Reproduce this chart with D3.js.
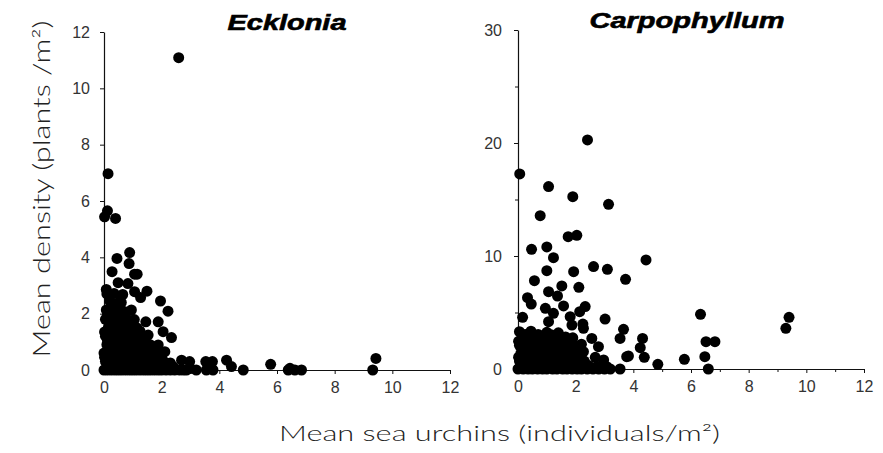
<!DOCTYPE html>
<html>
<head>
<meta charset="utf-8">
<script src="https://cdn.jsdelivr.net/npm/d3@7"></script>
<style>
  html, body { margin: 0; padding: 0; background: #fff; }
  svg { display: block; }
  .tick text { font-family: "Liberation Sans Narrow", "Liberation Sans", Arial, sans-serif; font-size: 16px; fill: #333; }
  .tick line, .domain { stroke: #111; }
</style>
</head>
<body>
<svg id="chart" width="883" height="453"></svg>
<script>
// ---------- DATA ----------
const panelTitles = ["Ecklonia", "Carpophyllum"];
const xTicks = [0, 2, 4, 6, 8, 10, 12];
const eckYTicks = [0, 2, 4, 6, 8, 10, 12];
const carpYTicks = [0, 10, 20, 30];
const xAxisLabel = "Mean sea urchins (individuals/m\u00B2)";
const yAxisLabel = "Mean density (plants /m\u00B2)";

// Ecklonia: urchins (x) and plant density (y)
const eckUrchins = [
  2.59, 0.14, 0.12, 0.02, 0.40, 0.89, 0.45, 0.87, 0.28, 1.06, 1.15, 0.83, 0.49, 0.08, 1.49, 1.06, 1.27, 1.96, 0.54, 0.08,
  2.22, 0.25, 0.95, 1.45, 1.88, 2.05, 0.08, 2.34, 1.53, 1.88, 2.11, 2.69, 2.97, 3.53, 3.76, 4.25, 4.42, 4.83, 5.78, 6.45,
  6.39, 6.62, 6.85, 9.32, 9.43, 3.20, 2.86, 3.78, 3.55, 3.00,
  0.00, 0.12, 0.25, 0.38, 0.50, 0.62, 0.75, 0.88, 1.00, 1.12, 1.25, 1.38, 1.50, 1.62, 1.75, 1.88, 2.00, 2.15, 2.30, 2.45, 2.62, 2.75,
  0.05, 0.30, 0.55, 0.80, 1.05, 1.30, 1.55, 1.80, 2.05, 2.30,
  0.00, 0.20, 0.45, 0.70, 0.95, 1.20, 1.45, 1.70, 1.95,
  0.10, 0.35, 0.60, 0.85, 1.10, 1.35, 1.60,
  0.05, 0.30, 0.55, 0.80, 1.05, 1.30,
  0.15, 0.40, 0.65, 0.90, 1.15,
  0.05, 0.30, 0.55, 0.80, 1.05,
  0.25, 0.50, 0.70, 0.40,
  0.20, 0.60,
  0.10, 0.35, 0.65,
  0.18, 0.42, 0.68, 0.92, 1.18, 1.42, 1.68, 1.92, 2.18, 2.40,
  0.02, 0.32, 0.58, 0.82, 1.08, 1.32, 1.58, 1.82, 2.00,
  0.22, 0.48, 0.72, 0.98, 1.22, 1.48, 1.72,
  0.12, 0.38, 0.62, 0.88, 1.12, 1.38,
  0.02, 0.28, 0.52, 0.78, 1.02, 1.25,
  0.18, 0.45, 0.68, 0.92,
  0.12, 0.38, 0.62
];
const eckDensity = [
  11.09, 6.97, 5.65, 5.44, 5.38, 4.17, 3.96, 3.78, 3.49, 3.40, 3.40, 3.07, 3.10, 2.86, 2.80, 2.78, 2.57, 2.45, 2.42, 2.13,
  2.09, 2.07, 2.13, 1.71, 1.71, 1.36, 1.36, 1.15, 1.24, 0.89, 0.65, 0.35, 0.30, 0.30, 0.30, 0.35, 0.12, 0.00, 0.20, 0.06,
  0.00, 0.00, 0.00, 0.00, 0.41, 0.00, 0.00, 0.00, 0.00, 0.05,
  0.00, 0.00, 0.00, 0.00, 0.00, 0.00, 0.00, 0.00, 0.00, 0.00, 0.00, 0.00, 0.00, 0.00, 0.00, 0.00, 0.00, 0.00, 0.00, 0.00, 0.00, 0.00,
  0.30, 0.28, 0.32, 0.30, 0.27, 0.31, 0.30, 0.28, 0.33, 0.25,
  0.60, 0.62, 0.58, 0.61, 0.63, 0.59, 0.60, 0.62, 0.57,
  0.90, 0.92, 0.88, 0.91, 0.93, 0.89, 0.90,
  1.20, 1.22, 1.18, 1.21, 1.19, 1.23,
  1.50, 1.52, 1.48, 1.51, 1.49,
  1.80, 1.82, 1.78, 1.81, 1.79,
  2.10, 2.12, 2.08, 2.35,
  2.45, 2.40,
  2.70, 2.72, 2.68,
  0.15, 0.16, 0.14, 0.15, 0.16, 0.14, 0.15, 0.16, 0.14, 0.12,
  0.45, 0.46, 0.44, 0.45, 0.46, 0.44, 0.45, 0.46, 0.48,
  0.75, 0.76, 0.74, 0.75, 0.76, 0.74, 0.75,
  1.05, 1.06, 1.04, 1.05, 1.06, 1.04,
  1.35, 1.36, 1.34, 1.35, 1.36, 1.38,
  1.65, 1.66, 1.64, 1.65,
  1.95, 1.96, 1.94
];

// Carpophyllum: urchins (x) and plant density (y)
const carpUrchins = [
  2.41, 0.06, 1.06, 1.90, 3.14, 0.77, 1.74, 2.04, 0.47, 1.00, 1.23, 4.44, 2.62, 3.10, 1.00, 1.93, 3.73, 0.57, 1.52, 2.11,
  1.06, 1.37, 0.33, 0.46, 1.58, 2.33, 0.95, 2.14, 1.23, 6.33, 9.40, 0.16, 3.02, 1.81, 1.06, 1.87, 2.25, 9.29, 3.66, 2.27,
  3.54, 4.32, 2.56, 6.52, 6.83, 2.79, 4.24, 2.27, 3.77, 3.83, 2.68, 4.38, 6.48, 5.77, 4.85, 2.97, 6.60, 3.54, 2.73, 3.08,
  0.00, 0.18, 0.35, 0.50, 0.68, 0.85, 1.00, 1.20, 1.35, 1.55, 1.70, 1.88, 2.05, 2.20, 2.40, 2.60, 2.80, 3.00, 3.20,
  0.05, 0.30, 0.50, 0.75, 0.95, 1.20, 1.40, 1.65, 1.85, 2.05, 2.30,
  0.10, 0.35, 0.60, 0.85, 1.10, 1.30, 1.55, 1.75, 2.00,
  0.05, 0.30, 0.55, 0.80, 1.05, 1.30, 1.50, 1.70, 1.95, 2.20,
  0.15, 0.40, 0.65, 0.90, 1.20, 1.45, 1.65, 1.90,
  0.05, 0.45, 1.00, 1.40,
  0.10, 0.28, 0.45, 0.62, 0.80, 0.98, 1.15, 1.32, 1.50, 1.68, 1.85, 2.02, 2.22, 2.45,
  0.02, 0.20, 0.42, 0.62, 0.85, 1.05, 1.25, 1.48, 1.68, 1.90, 2.12,
  0.22, 0.48, 0.72, 0.98, 1.18, 1.42, 1.62, 1.85, 2.10,
  0.02, 0.28, 0.55, 0.78, 1.05, 1.32, 1.55, 1.78,
  0.25, 0.70, 1.15
];
const carpDensity = [
  20.27, 17.26, 16.14, 15.25, 14.57, 13.57, 11.71, 11.83, 10.59, 10.80, 9.85, 9.65, 9.06, 8.82, 8.70, 8.61, 7.94, 7.82, 7.35, 7.23,
  6.84, 6.46, 6.31, 5.75, 5.58, 5.52, 5.37, 5.07, 4.93, 4.84, 4.57, 4.57, 4.42, 4.63, 4.19, 3.89, 3.98, 3.60, 3.51, 3.60,
  2.71, 2.71, 2.71, 2.42, 2.42, 1.98, 1.89, 1.53, 1.09, 1.15, 1.03, 1.03, 1.09, 0.86, 0.41, 0.80, 0.00, 0.00, 0.20, 0.20,
  0.00, 0.00, 0.00, 0.00, 0.00, 0.00, 0.00, 0.00, 0.00, 0.00, 0.00, 0.00, 0.00, 0.00, 0.00, 0.00, 0.00, 0.00, 0.00,
  0.70, 0.75, 0.65, 0.72, 0.68, 0.70, 0.74, 0.66, 0.71, 0.69, 0.70,
  1.40, 1.45, 1.35, 1.42, 1.38, 1.40, 1.44, 1.36, 1.41,
  2.10, 2.15, 2.05, 2.12, 2.08, 2.10, 2.14, 2.06, 2.11, 2.20,
  2.80, 2.85, 2.75, 2.82, 2.78, 2.80, 2.84, 2.76,
  3.30, 3.35, 3.25, 3.20,
  0.35, 0.36, 0.34, 0.35, 0.36, 0.34, 0.35, 0.36, 0.34, 0.35, 0.36, 0.34, 0.35, 0.30,
  1.05, 1.06, 1.04, 1.05, 1.06, 1.04, 1.05, 1.06, 1.04, 1.05, 1.06,
  1.75, 1.76, 1.74, 1.75, 1.76, 1.74, 1.75, 1.76, 1.74,
  2.45, 2.46, 2.44, 2.45, 2.46, 2.44, 2.45, 2.46,
  3.05, 3.06, 3.04
];

// ---------- DRAW ----------
const svg = d3.select("#chart");
const sansBody = '"Liberation Sans", Arial, sans-serif';
const sansLight = 'Lato, "Open Sans", "Liberation Sans", sans-serif';

const panels = [
  { title: panelTitles[0], xs: eckUrchins, ys: eckDensity, yTicks: eckYTicks, yMax: 12,
    x0: 104, x1: 450, yTop: 32, yBot: 370, titleX: 287, titleY: 30, titleW: 119, minorX: false, minorY: [] },
  { title: panelTitles[1], xs: carpUrchins, ys: carpDensity, yTicks: carpYTicks, yMax: 30,
    x0: 518, x1: 864, yTop: 30, yBot: 369, titleX: 687, titleY: 28, titleW: 195, minorX: true, minorY: [5, 15, 25] }
];

panels.forEach(p => {
  const x = d3.scaleLinear().domain([0, 12]).range([p.x0, p.x1]);
  const y = d3.scaleLinear().domain([0, p.yMax]).range([p.yBot, p.yTop]);

  if (p.minorX) {
    svg.append("g").attr("transform", `translate(0,${p.yBot})`)
      .call(d3.axisBottom(x).tickValues([1, 3, 5, 7, 9, 11]).tickSize(3).tickFormat(""))
      .call(g => g.select(".domain").remove());
  }
  if (p.minorY.length) {
    svg.append("g").attr("transform", `translate(${p.x0},0)`)
      .call(d3.axisLeft(y).tickValues(p.minorY).tickSize(3).tickFormat(""))
      .call(g => g.select(".domain").remove());
  }

  svg.append("g").attr("transform", `translate(0,${p.yBot})`)
    .call(d3.axisBottom(x).tickValues(xTicks).tickSize(4).tickSizeOuter(0).tickPadding(8).tickFormat(d3.format("d")));
  svg.append("g").attr("transform", `translate(${p.x0},0)`)
    .call(d3.axisLeft(y).tickValues(p.yTicks).tickSize(4).tickSizeOuter(0).tickPadding(p.yMax === 30 ? 12 : 10).tickFormat(d3.format("d")));

  svg.selectAll(".domain").attr("stroke-width", 1.2);

  svg.append("g").selectAll("circle")
    .data(p.xs.map((v, i) => [v, p.ys[i]]))
    .join("circle")
    .attr("cx", d => x(d[0]))
    .attr("cy", d => y(d[1]))
    .attr("r", 5.5)
    .attr("fill", "#000");

  svg.append("text")
    .attr("x", p.titleX).attr("y", p.titleY)
    .attr("text-anchor", "middle")
    .attr("textLength", p.titleW).attr("lengthAdjust", "spacingAndGlyphs")
    .style("font-family", sansBody).style("font-weight", "900").style("font-style", "italic")
    .style("font-size", "22px").style("fill", "#000")
    .style("stroke", "#000").style("stroke-width", "0.6px")
    .text(p.title);
});

svg.append("text")
  .attr("x", 499.5).attr("y", 441)
  .attr("text-anchor", "middle")
  .attr("textLength", 441).attr("lengthAdjust", "spacingAndGlyphs")
  .style("font-family", sansLight).style("font-weight", "300").style("font-size", "21px").style("fill", "#222")
  .text(xAxisLabel);

svg.append("text")
  .attr("transform", "translate(50,189) rotate(-90)")
  .attr("text-anchor", "middle")
  .attr("textLength", 337).attr("lengthAdjust", "spacingAndGlyphs")
  .style("font-family", sansLight).style("font-weight", "300").style("font-size", "23px").style("fill", "#222")
  .text(yAxisLabel);
</script>
</body>
</html>
